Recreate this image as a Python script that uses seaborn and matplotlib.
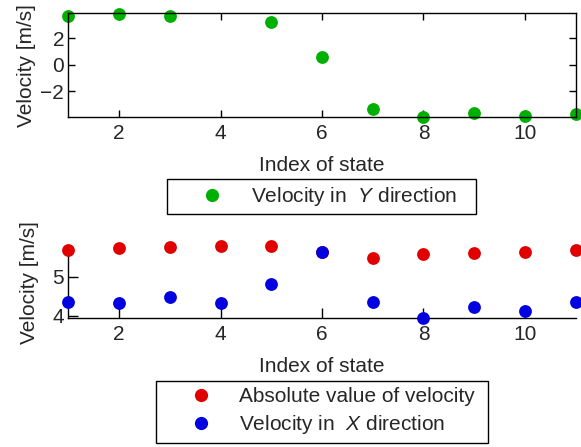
import numpy as np
import pandas as pd
import matplotlib
matplotlib.use("Agg")
import matplotlib.pyplot as plt
from matplotlib.lines import Line2D
import seaborn as sns

# ---- data ----
state_index = [1, 2, 3, 4, 5, 6, 7, 8, 9, 10, 11]
vel_y = [3.72, 3.85, 3.68, np.nan, 3.25, 0.57, -3.38, -3.98, -3.64, -3.87, -3.76]
vel_abs = [5.68, 5.72, 5.76, 5.77, 5.77, 5.63, 5.48, 5.57, 5.60, 5.63, 5.68]
vel_x = [4.36, 4.32, 4.49, 4.32, 4.81, 5.63, 4.36, 3.96, 4.24, 4.13, 4.36]
top_yticks = [-2, 0, 2]
bottom_yticks = [4, 5]
xticks = [2, 4, 6, 8, 10]

sns.set_style("white")
plt.rcParams['font.family'] = ['Liberation Sans', 'DejaVu Sans']
plt.rcParams['mathtext.fontset'] = 'custom'
plt.rcParams['mathtext.it'] = 'Liberation Sans:italic'
plt.rcParams['mathtext.rm'] = 'Liberation Sans'

FS = 15
W, H = 581, 447
fig = plt.figure(figsize=(W / 100, H / 100), dpi=100)

def px_axes(left, top, right, bottom):
    return fig.add_axes([left / W, 1 - bottom / H, (right - left) / W, (bottom - top) / H])

green = "#00b000"
red = "#e00000"
blue = "#0000e0"
S = 85

# ---- top axes ----
ax1 = px_axes(68.3, 13.3, 575.7, 117.3)
df1 = pd.DataFrame({"idx": state_index, "vy": vel_y})
sns.scatterplot(data=df1, x="idx", y="vy", ax=ax1, color=green, s=S, linewidth=0,
                clip_on=False, legend=False)
ax1.set_xlim(1, 11)
ax1.set_ylim(-3.98, 3.89)
ax1.set_xticks(xticks)
ax1.set_yticks(top_yticks)
ax1.tick_params(direction="in", length=5, width=1, labelsize=FS,
                top=True, right=True, bottom=True, left=True, color="black")
ax1.tick_params(axis="x", pad=5)
ax1.tick_params(axis="y", pad=3)
for sp in ax1.spines.values():
    sp.set_visible(True)
    sp.set_color("black")
    sp.set_linewidth(1)
ax1.set_xlabel("Index of state", fontsize=FS, labelpad=9)
ax1.set_ylabel("Velocity [m/s]", fontsize=FS, labelpad=3)

hg = [Line2D([], [], marker='o', linestyle='', color=green, markersize=9.5, markeredgewidth=0)]
leg1 = fig.legend(hg, ["Velocity in  $\\mathit{Y}$ direction"],
                  bbox_to_anchor=(167.3 / W, 1 - 216 / H, (476 - 167.3) / W, (216 - 176.7) / H),
                  loc="center", mode="expand", fontsize=FS, frameon=True, fancybox=False,
                  edgecolor="black", framealpha=1, borderpad=0.3, handlelength=3.7,
                  handletextpad=0.0, borderaxespad=0)
leg1.get_frame().set_linewidth(1)

# ---- bottom axes ----
ax2 = px_axes(68.3, 246.4, 575.7, 318.3)
df2 = pd.DataFrame({"idx": state_index, "abs": vel_abs, "vx": vel_x})
sns.scatterplot(data=df2, x="idx", y="abs", ax=ax2, color=red, s=S, linewidth=0,
                clip_on=False, legend=False, zorder=3)
sns.scatterplot(data=df2, x="idx", y="vx", ax=ax2, color=blue, s=S, linewidth=0,
                clip_on=False, legend=False, zorder=4)
ax2.set_xlim(1, 11)
ax2.set_ylim(3.94, 5.77)
ax2.set_xticks(xticks)
ax2.set_yticks(bottom_yticks)
ax2.tick_params(direction="in", length=7, width=1, labelsize=FS,
                top=False, right=False, bottom=True, left=True, color="black")
ax2.tick_params(axis="x", pad=5)
ax2.tick_params(axis="y", pad=3)
ax2.spines["top"].set_visible(False)
ax2.spines["right"].set_visible(False)
for k in ("left", "bottom"):
    ax2.spines[k].set_visible(True)
    ax2.spines[k].set_color("black")
    ax2.spines[k].set_linewidth(1)
ax2.set_xlabel("Index of state", fontsize=FS, labelpad=9)
ax2.set_ylabel("Velocity [m/s]", fontsize=FS, labelpad=10)

hb = [Line2D([], [], marker='o', linestyle='', color=red, markersize=9.5, markeredgewidth=0),
      Line2D([], [], marker='o', linestyle='', color=blue, markersize=9.5, markeredgewidth=0)]
leg2 = fig.legend(hb, ["Absolute value of velocity", "Velocity in  $\\mathit{X}$ direction"],
                  bbox_to_anchor=(156 / W, 1 - 446 / H, (488 - 156) / W, (446 - 377.3) / H),
                  loc="center", mode="expand", fontsize=FS, frameon=True, fancybox=False,
                  edgecolor="black", framealpha=1, borderpad=0.3, handlelength=3.7,
                  handletextpad=0.0, borderaxespad=0, labelspacing=0.35)
leg2.get_frame().set_linewidth(1)

fig.savefig("out.png", dpi=100)
